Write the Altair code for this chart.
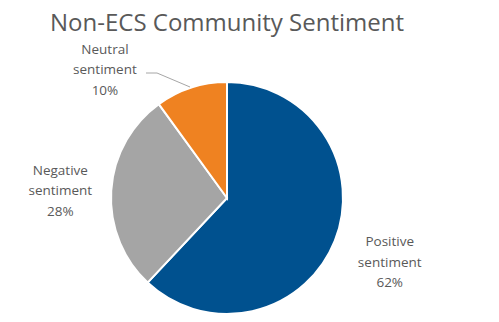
import altair as alt
import pandas as pd

categories = ["Positive sentiment", "Negative sentiment", "Neutral sentiment"]
values = [62, 28, 10]
label_text = ["Positive\nsentiment\n62%", "Negative\nsentiment\n28%", "Neutral\nsentiment\n10%"]
colors = ["#00518F", "#A5A5A5", "#EF8221"]

df = pd.DataFrame({
    "cat": categories,
    "value": values,
    "ord": [0, 1, 2],
    "label": label_text,
})

theta_scale = alt.Scale(domain=[0, 100], range=[0, 6.283185307179586])

base = alt.Chart(df).transform_stack(
    stack="value", groupby=[], as_=["v0", "v1"], sort=[alt.SortField("ord", order="ascending")]
).transform_calculate(mid="(datum.v0 + datum.v1) / 2")

arc = base.mark_arc(outerRadius=116, stroke="white", strokeWidth=2).encode(
    theta=alt.Theta("v0:Q", scale=theta_scale),
    theta2="v1:Q",
    color=alt.Color("cat:N", scale=alt.Scale(domain=categories, range=colors), legend=None),
)

txt_style = dict(font="Open Sans", fontSize=13.5, color="#595959", lineBreak="\n",
                 lineHeight=20.5, align="center", baseline="top")

def label_layer(idx, radius, dx=0, dy=0):
    return base.mark_text(radius=radius, dx=dx, dy=dy, **txt_style).encode(
        theta=alt.Theta("mid:Q", scale=theta_scale),
        text="label:N",
    ).transform_filter(alt.datum.ord == idx)

pos_txt = label_layer(0, 175, dy=-27)
neg_txt = label_layer(1, 167, dy=-24)
neu_txt = label_layer(2, 175, dx=-68, dy=11)

leader1 = alt.Chart(df).mark_rule(color="#A6A6A6", strokeWidth=1).encode(
    x=alt.value(146), x2=alt.value(157), y=alt.value(-7), y2=alt.value(-7)
).transform_filter(alt.datum.ord == 2)
leader2 = alt.Chart(df).mark_rule(color="#A6A6A6", strokeWidth=1).encode(
    x=alt.value(157), x2=alt.value(190), y=alt.value(-7), y2=alt.value(7)
).transform_filter(alt.datum.ord == 2)

chart = alt.layer(arc, leader1, leader2, pos_txt, neg_txt, neu_txt).properties(
    width=454,
    height=236,
    title=alt.TitleParams(
        "Non-ECS Community Sentiment",
        font="Open Sans",
        fontSize=24,
        fontWeight="normal",
        color="#595959",
        anchor="middle",
        frame="group",
        baseline="alphabetic",
        offset=-12,
    ),
    autosize=alt.AutoSizeParams(type="none"),
    padding={"left": 0, "top": 80, "right": 45, "bottom": 6},
).configure_view(stroke=None)

chart.save("out.html", embed_options={"renderer": "svg", "actions": False})
